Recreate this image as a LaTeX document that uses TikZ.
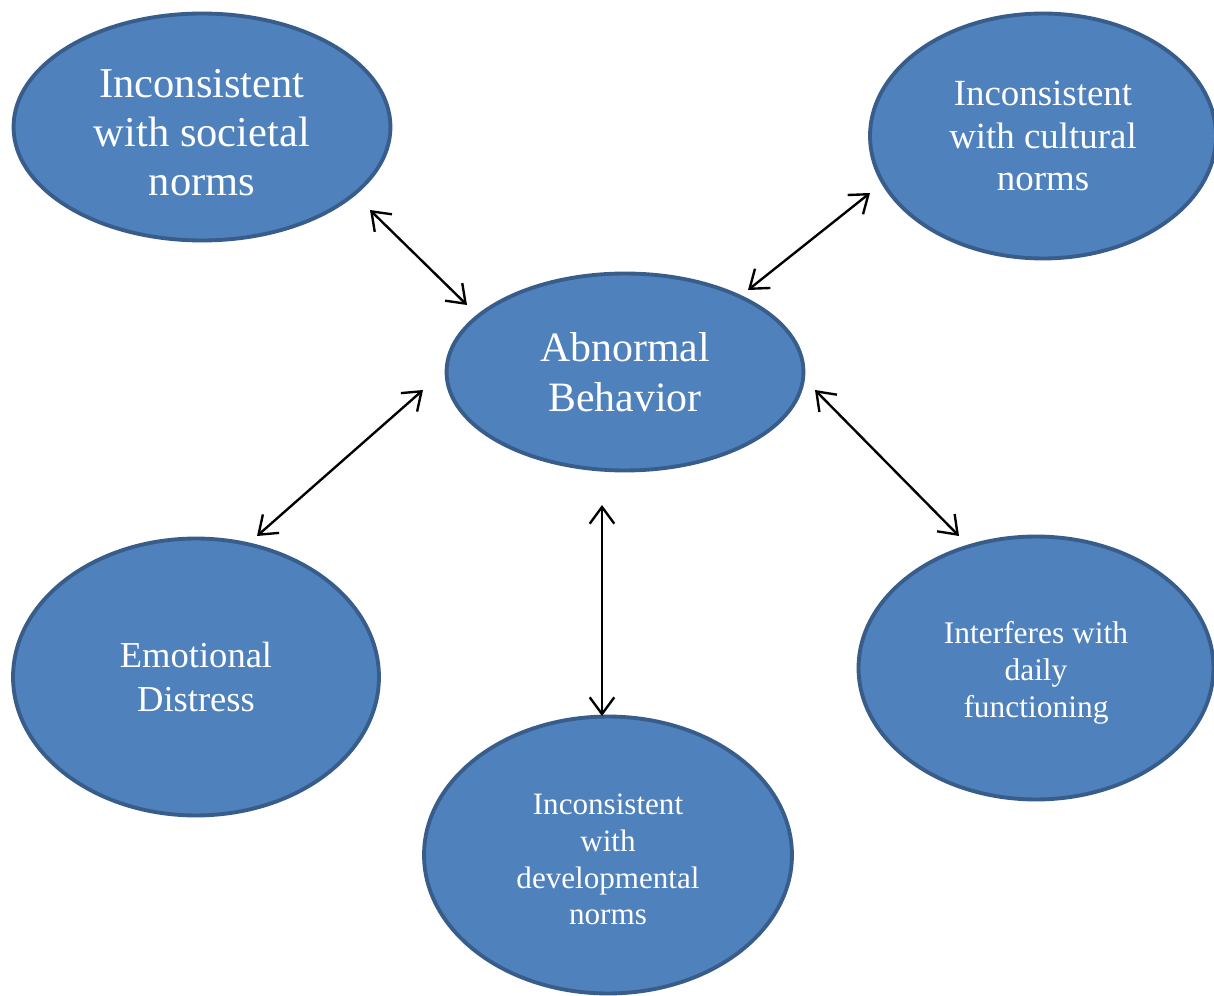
\documentclass[tikz,border=0pt]{standalone}
\usepackage{fontspec}
\setmainfont{Liberation Serif}
\usetikzlibrary{shapes.geometric,arrows.meta}
\definecolor{bfill}{HTML}{4F81BD}
\definecolor{bline}{HTML}{385D8A}
\tikzset{
  oval/.style={ellipse, draw=bline, fill=bfill, line width=2.2pt, inner sep=0pt,
    text=white, align=center},
  link/.style={line width=1.35pt, {Straight Barb[length=9.5pt,width=14pt,line width=1.35pt]}-{Straight Barb[length=9.5pt,width=14pt,line width=1.35pt]}}
}
\begin{document}
\begin{tikzpicture}[x=0.02cm,y=-0.02cm]
\fill[white] (0,0) rectangle (1214,996);
\useasboundingbox (0,0) rectangle (1214,996);
\clip (0,0) rectangle (1214,996);
\node[oval, minimum width=7.54cm, minimum height=4.54cm, font=\fontsize{24.2}{27.8}\selectfont] (tl) at (202,127) {\rule{0pt}{22.5pt}Inconsistent\\with societal\\norms};
\node[oval, minimum width=6.92cm, minimum height=4.90cm, font=\fontsize{21}{24.4}\selectfont] (tr) at (1043,136) {Inconsistent\\with cultural\\norms};
\node[oval, minimum width=7.14cm, minimum height=3.94cm, font=\fontsize{23.8}{28.3}\selectfont] (ab) at (625,372) {Abnormal\\Behavior};
\node[oval, minimum width=7.32cm, minimum height=5.54cm, font=\fontsize{20.8}{25}\selectfont] (ed) at (196,677) {Emotional\\Distress};
\node[oval, minimum width=7.10cm, minimum height=5.26cm, font=\fontsize{17.9}{21}\selectfont] (if) at (1036,668) {\rule{0pt}{18pt}Interferes with\\daily\\functioning};
\node[oval, minimum width=7.36cm, minimum height=5.54cm, font=\fontsize{17.7}{21}\selectfont] (dv) at (608,855) {\rule{0pt}{16.8pt}Inconsistent\\with\\developmental\\norms};
\draw[link] ([shift={(168,83)}]tl.center) -- ([shift={(-158,-67)}]ab.center);
\draw[link] ([shift={(-173,57)}]tr.center) -- ([shift={(123,-82)}]ab.center);
\draw[link] ([shift={(-202,18)}]ab.center) -- ([shift={(61,-141)}]ed.center);
\draw[link] ([shift={(190,18)}]ab.center) -- ([shift={(-77,-132)}]if.center);
\draw[link] ([shift={(-23,133)}]ab.center) -- ([shift={(-6,-139)}]dv.center);
\end{tikzpicture}
\end{document}
